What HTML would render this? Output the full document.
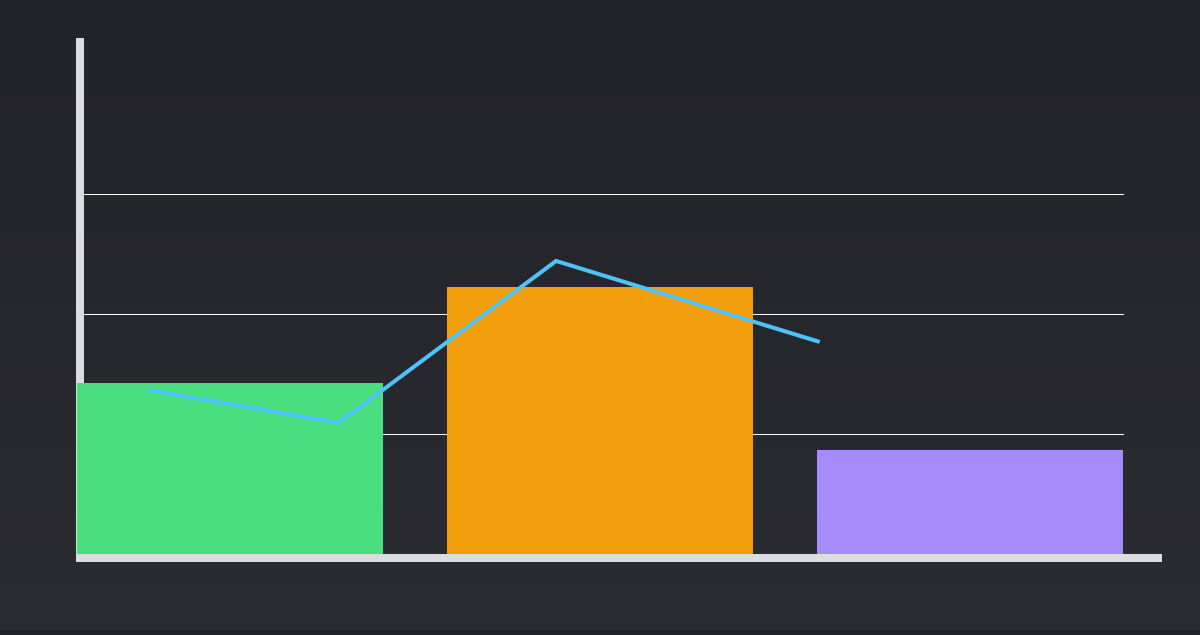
<!DOCTYPE html>
<html><head><meta charset="utf-8"><style>
html,body{margin:0;padding:0;}
body{width:1200px;height:630px;background:linear-gradient(#222329,#2b2c31);overflow:hidden;font-family:"Liberation Sans",sans-serif;}
</style></head><body>
<svg id="chart" width="1200" height="630" xmlns="http://www.w3.org/2000/svg"></svg>
<script>
const categories = ["A", "B", "C"];
const barValues = [1.425, 2.225, 0.867];
const barColors = ["#4ade80", "#f29e0c", "#a78bfa"];
const lineX = [0.068, 0.250, 0.458, 0.710];
const lineValues = [1.367, 1.092, 2.442, 1.767];
const gridTicks = [1, 2, 3];

const NS = "http://www.w3.org/2000/svg";
const svg = document.getElementById("chart");
const left = 77, right = 1123, base = 554, unit = 120;
const y = v => base - v * unit;
const step = (right - left + 64) / categories.length;
const bw = step - 64;
const bx = i => left + i * step;
const lx = t => left + t * (right - left);
function mk(tag, attrs) {
  const e = document.createElementNS(NS, tag);
  for (const k in attrs) e.setAttribute(k, attrs[k]);
  svg.appendChild(e);
  return e;
}
const ya = mk("rect", {x: 76, y: 38, width: 8, height: 524, fill: "#dcdde2"});


const xa = mk("rect", {x: 76, y: 554, width: 1086, height: 8, fill: "#dcdde2"});


gridTicks.forEach(t => {
  const g = mk("line", {x1: 84, x2: 1124, y1: y(t) + 0.5, y2: y(t) + 0.5, stroke: "#ffffff", "stroke-width": 1, "shape-rendering": "crispEdges"});
  
  
});
barValues.forEach((v, i) => {
  const r = mk("rect", {x: bx(i), y: y(v), width: bw, height: base - y(v), fill: barColors[i]});
  
  
});
const pts = lineValues.map((v, i) => lx(lineX[i]) + "," + y(v)).join(" ");
const pl = mk("polyline", {points: pts, fill: "none", stroke: "#4fc3f7", "stroke-width": 4});


</script>
</body></html>
